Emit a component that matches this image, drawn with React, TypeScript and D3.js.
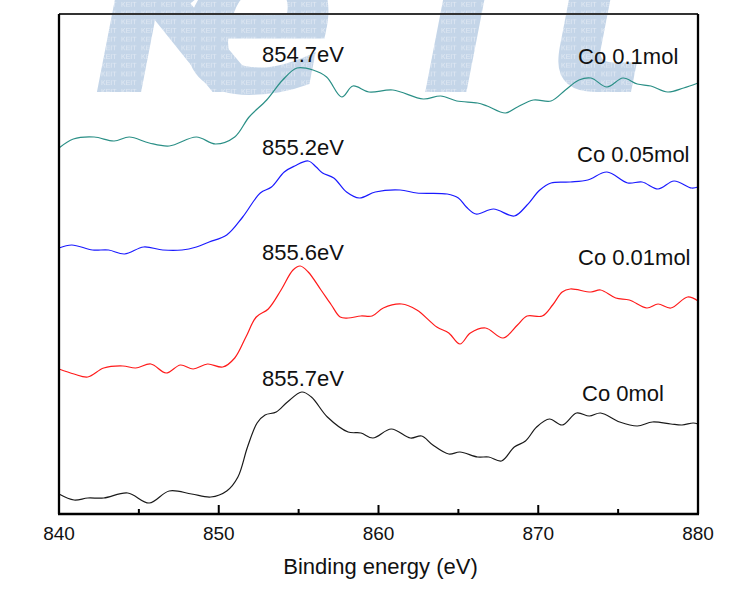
import React from "react";
import * as d3 from "d3";

// Binding energy (eV) / intensity (arb. units) pairs
const co0: [number, number][] = [
  [840, 19], [840.94, 13], [841.8, 15], [842.8, 15], [844.3, 20], [845.65, 10], [846.9, 22],
  [848.3, 19], [849.5, 16], [850.5, 22], [851.2, 36], [851.8, 66], [852.4, 90], [852.9, 98],
  [853.6, 101], [854.3, 111], [855.2, 121], [855.8, 116], [856.8, 96], [858.1, 81], [858.9, 80],
  [859.65, 75], [860.8, 84], [862.0, 75], [862.7, 77], [863.4, 68], [864.4, 59], [865.1, 61],
  [866.2, 56], [866.9, 56], [867.7, 52], [868.5, 66], [869.2, 72], [869.9, 86], [870.7, 94],
  [871.5, 88], [872.4, 100], [873.2, 97], [873.9, 100], [875.1, 91], [876.2, 87], [877.15, 91],
  [878.3, 89], [879.0, 88], [879.7, 90], [880, 89],
];

const co001: [number, number][] = [
  [840, 144], [840.94, 139], [841.8, 136], [842.8, 145], [844.0, 147], [844.8, 145], [845.75, 149],
  [846.7, 140], [847.6, 148], [848.4, 144], [849.3, 149], [850.25, 146], [851.0, 155], [851.7, 176],
  [852.35, 196], [853.1, 204], [853.9, 223], [854.65, 243], [855.1, 247], [855.6, 241], [856.4, 223],
  [857.05, 208], [857.6, 196], [858.1, 195], [858.9, 197], [859.6, 197], [860.3, 205], [861.45, 209],
  [862.4, 203], [863.65, 186], [864.4, 180], [865.1, 169], [865.75, 180], [866.7, 185], [867.8, 175],
  [868.7, 188], [869.3, 197], [870.25, 197], [870.9, 208], [871.5, 221], [872.0, 224], [873.3, 221],
  [873.9, 223], [874.85, 215], [875.7, 213], [876.8, 205], [877.5, 209], [878.3, 205], [879.35, 216],
  [880, 212],
];

const co005: [number, number][] = [
  [840, 265], [840.8, 268], [842.1, 263], [843.1, 263], [844.1, 259], [845.3, 266], [846.5, 263],
  [847.7, 263], [848.6, 266], [849.4, 271], [850.5, 278], [851.5, 296], [852.6, 320], [853.3, 326],
  [854.1, 341], [854.75, 347], [855.6, 352], [856.1, 346], [856.5, 340], [857.2, 335], [858.0, 321],
  [858.8, 315], [859.8, 321], [861.35, 323], [862.4, 320], [864.3, 319], [865.0, 315], [865.5, 306],
  [866.1, 299], [867.2, 304], [868.5, 297], [869.3, 308], [870.1, 323], [870.8, 330], [872.0, 331],
  [873.1, 333], [874.3, 341], [875.6, 330], [876.5, 331], [877.5, 324], [878.5, 332], [879.6, 325],
  [880, 326],
];

const co01: [number, number][] = [
  [840, 365], [840.9, 374], [842.2, 376], [843.45, 372], [844.4, 376], [845.65, 370], [846.9, 367],
  [848.6, 376], [849.8, 369], [851.0, 376], [851.9, 396], [853.0, 413], [854.0, 433], [854.9, 445],
  [855.9, 443], [856.75, 436], [857.7, 416], [858.4, 427], [859.4, 421], [860.9, 423], [862.8, 414],
  [863.9, 417], [864.9, 412], [866.2, 410], [866.8, 407], [867.95, 400], [868.7, 406], [869.7, 413],
  [870.8, 412], [871.7, 423], [872.55, 433], [873.3, 435], [874.3, 426], [875.3, 435], [876.2, 429],
  [877.05, 427], [878.1, 421], [879.1, 425], [880, 430],
];

const seriesNames = ["Co 0mol", "Co 0.01mol", "Co 0.05mol", "Co 0.1mol"];
const peakLabels = ["855.7eV", "855.6eV", "855.2eV", "854.7eV"];
const seriesData = [co0, co001, co005, co01];
const seriesColors = ["#1a1a1a", "#ff1a1a", "#1a1aff", "#2a8f86"];
const xTicks = [840, 845, 850, 855, 860, 865, 870, 875, 880];
const xTickLabels = [840, 850, 860, 870, 880];
const xTitle = "Binding energy (eV)";
const watermarkLetters = ["K", "e", "i", "t"];

export default function App() {
  const W = 738;
  const H = 602;
  const left = 59, right = 698, top = 14, bottom = 514;
  const x = d3.scaleLinear().domain([840, 880]).range([left, right]);
  const y = d3.scaleLinear().domain([0, 500]).range([513, 13]);
  const line = d3
    .line<[number, number]>()
    .x((d) => x(d[0]))
    .y((d) => y(d[1]))
    .curve(d3.curveCatmullRom.alpha(0.5));

  const font = "'Liberation Sans', Arial, sans-serif";
  const nameLayout = [
    { x: 582, y: 401 },
    { x: 578, y: 265 },
    { x: 577, y: 162 },
    { x: 578, y: 64 },
  ];
  const wmX = [92, 178, 418, 540];

  return (
    <svg
      width={W}
      height={H}
      style={{ position: "absolute", left: 0, top: 0, background: "#fff" }}
      fontFamily={font}
    >
      <defs>
        <pattern id="wmPat" width={20} height={8.7} patternUnits="userSpaceOnUse">
          <rect width={20} height={8.7} fill="#c4d5e8" />
          <text x={1} y={7} fontSize={7} fill="#e2eaf4" fontFamily={font}>
            KEIT
          </text>
        </pattern>
      </defs>
      <rect width={W} height={H} fill="#fff" />

      {/* watermark */}
      <g fill="url(#wmPat)" fontSize={235} fontWeight="bold" fontStyle="italic" fontFamily="'DejaVu Sans', sans-serif">
        {watermarkLetters.map((c, i) => (
          <text key={c} x={wmX[i]} y={92}>
            {c}
          </text>
        ))}
      </g>

      {/* series */}
      {seriesData.map((s, i) => (
        <path key={i} d={line(s) || ""} fill="none" stroke={seriesColors[i]} strokeWidth={1.2} />
      ))}

      {/* peak labels */}
      {seriesData.map((s, i) => {
        const maxV = d3.max(s, (d) => d[1]) as number;
        return (
          <text key={"p" + i} x={262} y={y(maxV) - 6} fontSize={22} fill="#111">
            {peakLabels[i]}
          </text>
        );
      })}

      {/* series names */}
      {seriesNames.map((n, i) => (
        <text key={"n" + i} x={nameLayout[i].x} y={nameLayout[i].y} fontSize={22} fill="#111">
          {n}
        </text>
      ))}

      {/* frame */}
      <line x1={left} x2={right} y1={top} y2={top} stroke="#333" strokeWidth={2} />
      <line x1={left} x2={left} y1={top} y2={bottom} stroke="#000" strokeWidth={2.3} />
      <line x1={right} x2={right} y1={top} y2={bottom} stroke="#000" strokeWidth={2.3} />
      <line x1={left - 1} x2={right + 1} y1={bottom} y2={bottom} stroke="#000" strokeWidth={2.3} />

      {/* ticks */}
      {xTicks.map((t) => {
        const major = t % 10 === 0;
        return (
          <line
            key={"t" + t}
            x1={x(t)}
            x2={x(t)}
            y1={bottom}
            y2={bottom - (major ? 9 : 5)}
            stroke="#000"
            strokeWidth={2}
          />
        );
      })}
      {xTickLabels.map((t) => (
        <text key={"l" + t} x={x(t)} y={540} fontSize={19} textAnchor="middle" fill="#111">
          {t}
        </text>
      ))}
      <text x={(left + right) / 2 + 2} y={574} fontSize={22} textAnchor="middle" fill="#111">
        {xTitle}
      </text>
    </svg>
  );
}
